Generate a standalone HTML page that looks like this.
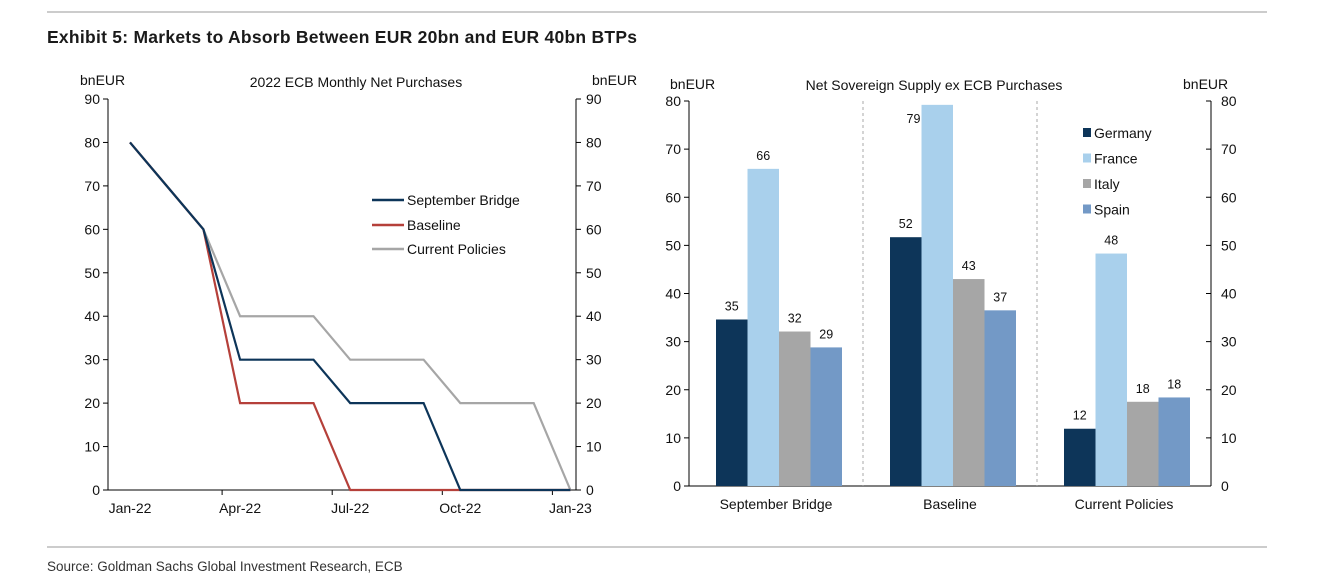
<!DOCTYPE html>
<html><head><meta charset="utf-8">
<style>
body{margin:0;background:#fff;width:1326px;height:581px;overflow:hidden;font-family:"Liberation Sans",Arial,sans-serif;}
svg text{font-family:"Liberation Sans",Arial,sans-serif;}
</style></head>
<body>
<svg width="1326" height="581">
<line x1="47" y1="12" x2="1267" y2="12" stroke="#999" stroke-width="1"/>
<text x="47" y="43" font-size="17.5" font-weight="bold" fill="#1a1a1a" textLength="590">Exhibit 5: Markets to Absorb Between EUR 20bn and EUR 40bn BTPs</text>
<line x1="47" y1="547" x2="1267" y2="547" stroke="#999" stroke-width="1"/>
<text x="47" y="571" font-size="13.5" fill="#333">Source: Goldman Sachs Global Investment Research, ECB</text>
<g id="left"></g>
<g id="right"></g>
</svg>
<script>
const NS="http://www.w3.org/2000/svg";
function mk(parent,tag,attrs,text){const e=document.createElementNS(NS,tag);for(const k in attrs)e.setAttribute(k,attrs[k]);if(text!==undefined)e.textContent=text;parent.appendChild(e);return e;}

// ---- Line chart data ----
const months=["Jan-22","Feb-22","Mar-22","Apr-22","May-22","Jun-22","Jul-22","Aug-22","Sep-22","Oct-22","Nov-22","Dec-22","Jan-23"];
const septBridge=[80,70,60,30,30,30,20,20,20,0,0,0,0];
const baseline=[80,70,60,20,20,20,0,0,0,0,0,0,0];
const currentPolicies=[80,70,60,40,40,40,30,30,30,20,20,20,0];
const lineTicks=[0,10,20,30,40,50,60,70,80,90];
const xLabelIdx=[0,3,6,9,12];

// ---- Bar chart data ----
const scenarios=["September Bridge","Baseline","Current Policies"];
const countries=["Germany","France","Italy","Spain"];
const germany=[34.6,51.7,11.9];
const france=[65.9,79.2,48.3];
const italy=[32.1,43.0,17.5];
const spain=[28.8,36.5,18.4];
const barLabels=[["35","66","32","29"],["52","79","43","37"],["12","48","18","18"]];
const barTicks=[0,10,20,30,40,50,60,70,80];

// Line chart
const L=document.getElementById('left');
const lx0=108,lx1=576,ly0=490,ly1=99;
const ly=v=>ly0-(v/90)*(ly0-ly1);
const lx=i=>130+i*36.7;
mk(L,'line',{x1:lx0,y1:ly1,x2:lx0,y2:ly0,stroke:'#000','stroke-width':1});
mk(L,'line',{x1:lx1,y1:ly1,x2:lx1,y2:ly0,stroke:'#000','stroke-width':1});
mk(L,'line',{x1:lx0,y1:ly0,x2:lx1,y2:ly0,stroke:'#000','stroke-width':1});
lineTicks.forEach(t=>{
 const y=ly(t);
 mk(L,'line',{x1:lx0-5,y1:y,x2:lx0,y2:y,stroke:'#000'});
 mk(L,'line',{x1:lx1,y1:y,x2:lx1+5,y2:y,stroke:'#000'});
 const a=mk(L,'text',{x:lx0-8,y:y+5,'font-size':14,'text-anchor':'end',fill:'#111'},String(t));
 
 
 const b=mk(L,'text',{x:lx1+10,y:y+5,'font-size':14,fill:'#111'},String(t));
 
 
});
xLabelIdx.forEach(i=>{
 const x=lx(i);
 if(i>0) mk(L,'line',{x1:x-18,y1:ly0,x2:x-18,y2:ly0+5,stroke:'#000'});
 const t=mk(L,'text',{x:x,y:513,'font-size':14,'text-anchor':'middle',fill:'#111'},months[i]);
 
 
});
mk(L,'text',{x:80,y:85,'font-size':14,fill:'#111'},'bnEUR');
mk(L,'text',{x:592,y:85,'font-size':14,fill:'#111'},'bnEUR');
mk(L,'text',{x:356,y:87,'font-size':14,'text-anchor':'middle',fill:'#111'},'2022 ECB Monthly Net Purchases');
const series=[[currentPolicies,'#a6a6a6','current-policies-line'],[baseline,'#b5403a','baseline-line'],[septBridge,'#0d3559','september-bridge-line']];
series.forEach(([d,c,n])=>{
 const p=mk(L,'polyline',{points:d.map((v,i)=>lx(i)+','+ly(v)).join(' '),fill:'none',stroke:c,'stroke-width':2.2});
 
 
});
[['September Bridge','#0d3559',200],['Baseline','#b5403a',225],['Current Policies','#a6a6a6',249]].forEach(([n,c,y])=>{
 mk(L,'line',{x1:372,y1:y,x2:404,y2:y,stroke:c,'stroke-width':2.5});
 const t=mk(L,'text',{x:407,y:y+5,'font-size':14,fill:'#111'},n);
 
 
});

// Bar chart
const R=document.getElementById('right');
const bx0=689,bx1=1211,by0=486,by1=101;
const by=v=>by0-(v/80)*(by0-by1);
const catW=(bx1-bx0)/3, barW=31.5;
mk(R,'line',{x1:bx0,y1:by1,x2:bx0,y2:by0,stroke:'#000'});
mk(R,'line',{x1:bx1,y1:by1,x2:bx1,y2:by0,stroke:'#000'});
mk(R,'line',{x1:bx0,y1:by0,x2:bx1,y2:by0,stroke:'#000'});
[1,2].forEach(k=>mk(R,'line',{x1:bx0+k*catW,y1:by1,x2:bx0+k*catW,y2:by0,stroke:'#aaa','stroke-dasharray':'3,3'}));
barTicks.forEach(t=>{
 const y=by(t);
 mk(R,'line',{x1:bx0-5,y1:y,x2:bx0,y2:y,stroke:'#000'});
 mk(R,'line',{x1:bx1-5,y1:y,x2:bx1,y2:y,stroke:'#000'});
 const a=mk(R,'text',{x:bx0-8,y:y+5,'font-size':14,'text-anchor':'end',fill:'#111'},String(t));
 
 
 const b=mk(R,'text',{x:bx1+10,y:y+5,'font-size':14,fill:'#111'},String(t));
 
 
});
mk(R,'text',{x:670,y:89,'font-size':14,fill:'#111'},'bnEUR');
mk(R,'text',{x:1183,y:89,'font-size':14,fill:'#111'},'bnEUR');
mk(R,'text',{x:934,y:90,'font-size':14,'text-anchor':'middle',fill:'#111'},'Net Sovereign Supply ex ECB Purchases');
const colors=['#0d3559','#a9d0ec','#a6a6a6','#7399c6'];
const vals=[germany,france,italy,spain];
scenarios.forEach((s,g)=>{
 const gx=bx0+g*catW+27;
 vals.forEach((arr,k)=>{
  const v=arr[g], x=gx+k*barW;
  const r=mk(R,'rect',{x:x,y:by(v),width:barW,height:by0-by(v),fill:colors[k]});
  
  
  const top=(by(v)-9<by1+4);
  const ty=top?by(v)+18:by(v)-9;
  const tx=top?x-8:x+barW/2;
  const t=mk(R,'text',{x:tx,y:ty,'font-size':12.5,'text-anchor':'middle',fill:'#111'},barLabels[g][k]);
  
  
 });
 const t=mk(R,'text',{x:bx0+g*catW+catW/2,y:509,'font-size':14,'text-anchor':'middle',fill:'#111'},s);
 
 
});
countries.forEach((c,k)=>{
 const y=133+k*25.5;
 mk(R,'rect',{x:1083,y:y-5,width:8,height:9,fill:colors[k]});
 const t=mk(R,'text',{x:1094,y:y+5,'font-size':14,fill:'#111'},c);
 
 
});
</script>
</body></html>
